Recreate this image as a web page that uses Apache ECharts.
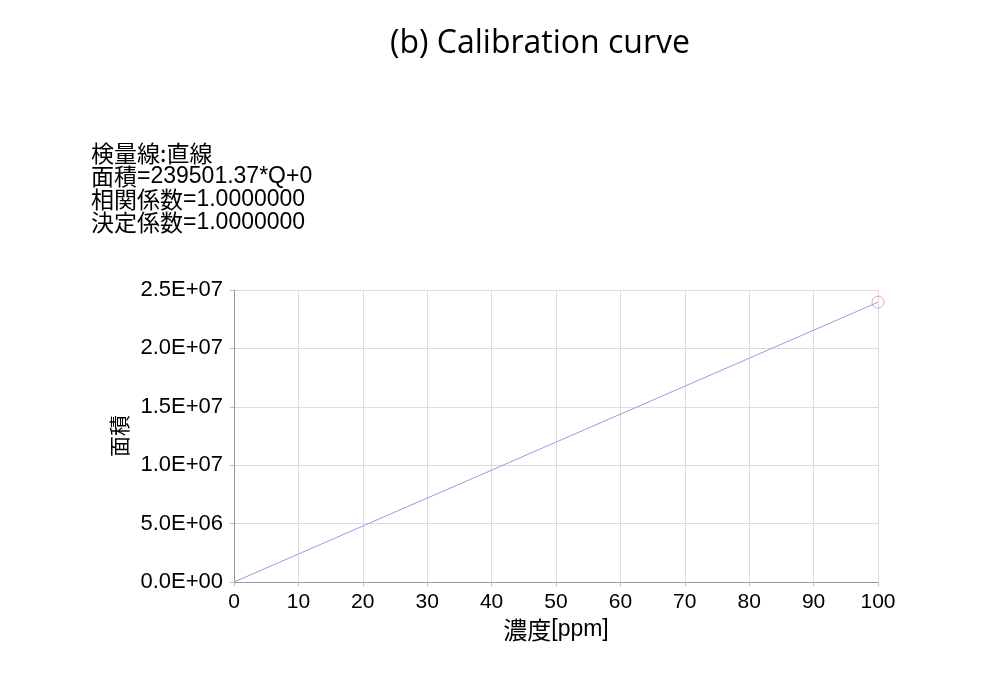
<!DOCTYPE html>
<html>
<head>
<meta charset="utf-8">
<script src="https://cdn.jsdelivr.net/npm/echarts@6/dist/echarts.min.js"></script>
<style>html,body{margin:0;padding:0;background:#fff}#c{width:1000px;height:678px}</style>
</head>
<body>
<div id="c"></div>
<script>
const concentrations = [0, 100];
const areas = [0, 23950137];
const calPoints = [[100, 23950137]];
const titleText = "(b) Calibration curve";
const infoLines = [
  ["検量線:直線", ""],
  ["面積", "=239501.37*Q+0"],
  ["相関係数", "=1.0000000"],
  ["決定係数", "=1.0000000"]
];
const xNameParts = ["濃度", "[ppm]"];
const yName = "面積";

const jp = '"Noto Sans CJK JP", sans-serif';
const lat = '"Liberation Sans", Arial, sans-serif';
function sci(v) {
  const s = v.toExponential(1);
  const parts = s.split('e');
  let exp = parseInt(parts[1], 10);
  const sign = exp < 0 ? '-' : '+';
  exp = Math.abs(exp);
  return parts[0] + 'E' + sign + (exp < 10 ? '0' + exp : '' + exp);
}
const infoText = infoLines.map(l => '{c|' + l[0] + '}' + (l[1] ? '{l|' + l[1] + '}' : '')).join('\n');
const chart = echarts.init(document.getElementById('c'));
chart.setOption({
  backgroundColor: '#fff',
  animation: false,
  title: [{
    text: titleText, left: 535, top: 23, textAlign: 'center',
    textStyle: { fontFamily: '"Open Sans", sans-serif', fontSize: 32, fontWeight: 'normal', color: '#000' }
  }, {
    text: infoText, left: 86, top: 137,
    textStyle: {
      color: '#000', lineHeight: 23, fontWeight: 'normal',
      rich: {
        c: { fontFamily: jp, fontSize: 23, fontWeight: 'normal', color: '#000', lineHeight: 23 },
        l: { fontFamily: lat, fontSize: 23, fontWeight: 'normal', color: '#000', lineHeight: 23 }
      }
    }
  }],
  grid: { left: 234, right: 122, top: 290, bottom: 96, containLabel: false },
  xAxis: {
    type: 'value', min: 0, max: 100, interval: 10,
    name: '{c|' + xNameParts[0] + '}{l|' + xNameParts[1] + '}', nameLocation: 'middle', nameGap: 36,
    nameTextStyle: {
      color: '#000',
      rich: {
        c: { fontFamily: jp, fontSize: 24, color: '#000' },
        l: { fontFamily: lat, fontSize: 23, color: '#000' }
      }
    },
    axisLine: { show: true, lineStyle: { color: '#999' } },
    axisTick: { show: true, length: 4, lineStyle: { color: '#bbb' } },
    axisLabel: { fontFamily: lat, fontSize: 21, color: '#000', margin: 10 },
    splitLine: { show: true, lineStyle: { color: '#dcdcdc' } }
  },
  yAxis: {
    type: 'value', min: 0, max: 25000000, interval: 5000000,
    name: yName, nameLocation: 'middle', nameGap: 103, nameRotate: 90,
    nameTextStyle: { fontFamily: jp, fontSize: 21, color: '#000' },
    axisLine: { show: true, lineStyle: { color: '#999' } },
    axisTick: { show: true, length: 4, lineStyle: { color: '#bbb' } },
    axisLabel: { fontFamily: lat, fontSize: 22, color: '#000', margin: 11, formatter: sci },
    splitLine: { show: true, lineStyle: { color: '#dcdcdc' } }
  },
  series: [{
    type: 'line',
    data: concentrations.map((c, i) => [c, areas[i]]),
    showSymbol: false, symbol: 'none',
    lineStyle: { color: '#9a9ae6', width: 1 },
    silent: true
  }, {
    type: 'scatter',
    data: calPoints,
    symbol: 'circle', symbolSize: 12,
    itemStyle: { color: 'rgba(255,255,255,0)', borderColor: '#ee9098', borderWidth: 1 },
    silent: true
  }]
});
</script>
</body>
</html>
